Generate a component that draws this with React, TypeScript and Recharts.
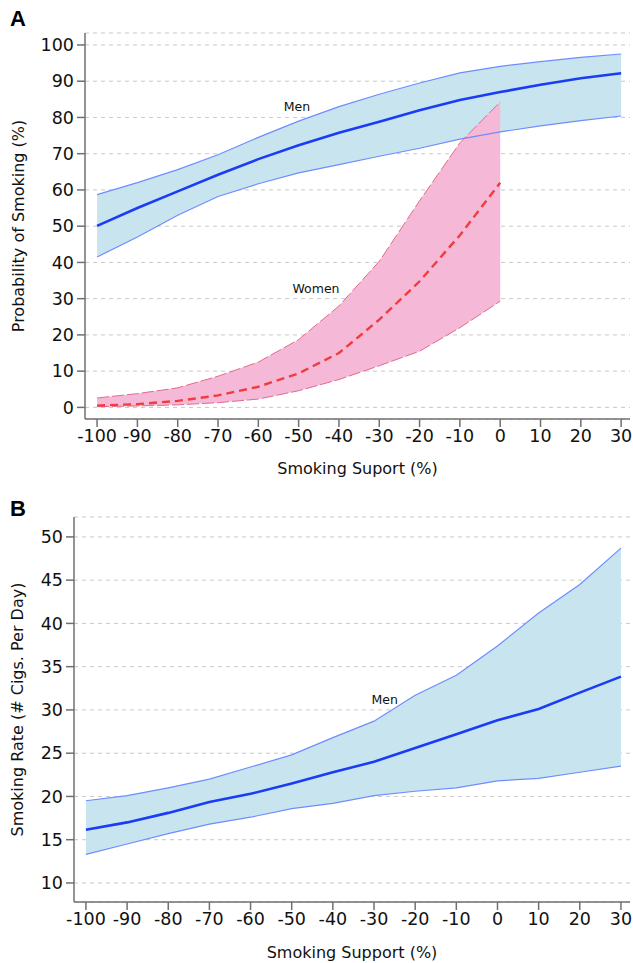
import React from 'react';
import {
  ComposedChart, Area, Line, XAxis, YAxis, CartesianGrid, ReferenceArea, ReferenceDot,
} from 'recharts';

const support = [-100, -90, -80, -70, -60, -50, -40, -30, -20, -10, 0, 10, 20, 30];
const xTicks = support;
const yTicksA = [0, 10, 20, 30, 40, 50, 60, 70, 80, 90, 100];
const yTicksB = [10, 15, 20, 25, 30, 35, 40, 45, 50];

// Panel A – probability of smoking (%)
const menMeanA = [50.1, 55, 59.6, 64.2, 68.5, 72.3, 75.8, 78.8, 82, 84.8, 87, 89, 90.8, 92.2];
const menUpA = [58.7, 62, 65.6, 69.7, 74.5, 79, 83, 86.4, 89.5, 92.3, 94.1, 95.4, 96.6, 97.5];
const menLowA = [41.5, 47, 53, 58.2, 61.7, 64.7, 67, 69.3, 71.5, 74, 76, 77.7, 79.1, 80.4];
const womenMean = [0.5, 0.9, 1.8, 3.3, 5.7, 9.4, 15, 24.2, 34.8, 47.5, 62];
const womenUp = [2.6, 3.8, 5.4, 8.6, 12.5, 18.7, 28, 40.3, 57, 73, 84.3];
const womenLow = [0.2, 0.4, 0.7, 1.3, 2.3, 4.6, 7.7, 11.5, 15.5, 22, 29.3];

// Panel B – smoking rate (# cigs per day)
const menMeanB = [16.15, 17.0, 18.1, 19.35, 20.3, 21.5, 22.8, 24.0, 25.6, 27.2, 28.8, 30.1, 32.0, 33.85];
const menUpB = [19.5, 20.1, 21.0, 22.0, 23.4, 24.8, 26.8, 28.7, 31.7, 34.0, 37.4, 41.2, 44.5, 48.7];
const menLowB = [13.3, 14.5, 15.7, 16.8, 17.6, 18.6, 19.2, 20.1, 20.6, 21.0, 21.8, 22.1, 22.8, 23.5];

const dataA = support.map((x, i) => ({
  x,
  menMean: menMeanA[i],
  menUp: menUpA[i],
  menLow: menLowA[i],
  menBand: [menLowA[i], menUpA[i]],
  womenMean: i < womenMean.length ? womenMean[i] : null,
  womenUp: i < womenUp.length ? womenUp[i] : null,
  womenLow: i < womenLow.length ? womenLow[i] : null,
  womenBand: i < womenUp.length ? [womenLow[i], womenUp[i]] : null,
}));

const dataB = support.map((x, i) => ({
  x,
  menMean: menMeanB[i],
  menUp: menUpB[i],
  menLow: menLowB[i],
  menBand: [menLowB[i], menUpB[i]],
}));

const FONT = 'DejaVu Sans';
const AXIS = '#707070';
const BLUE_FILL = '#c8e5ef';
const BLUE_LINE = '#1a3cf5';
const BLUE_EDGE = '#6f8cff';
const PINK_FILL = '#f5b8d7';
const RED_LINE = '#f03c3c';
const PINK_EDGE = '#e36a8e';

const tickStyle = { fill: '#111', fontSize: 17.5, fontFamily: FONT };

export default function App() {
  return (
    <div style={{ position: 'absolute', left: 0, top: 0, width: 633, height: 963, background: '#fff', fontFamily: FONT }}>
      <div style={{ position: 'absolute', left: 10, top: 6, fontSize: 22, fontWeight: 'bold', fontFamily: 'Liberation Sans' }}>A</div>
      <div style={{ position: 'absolute', left: 10, top: 496, fontSize: 22, fontWeight: 'bold', fontFamily: 'Liberation Sans' }}>B</div>

      <div style={{ position: 'absolute', left: 0, top: 0 }}>
        <ComposedChart width={633} height={480} data={dataA} margin={{ top: 33, right: 3, left: 0, bottom: 0 }}>
          <CartesianGrid vertical={false} stroke="#c8c8c8" strokeDasharray="4 4" />
          <XAxis
            dataKey="x" type="number" domain={[-103, 32.2]} ticks={xTicks} interval={0} allowDataOverflow
            height={61} stroke={AXIS} strokeWidth={1.5} tickSize={8} tickMargin={3} tick={tickStyle}
            label={{ value: 'Smoking Suport (%)', position: 'insideBottom', offset: 6, fill: '#111', fontSize: 16, fontFamily: FONT }}
          />
          <YAxis
            type="number" domain={[-3.2, 103.3]} ticks={yTicksA} interval={0} allowDataOverflow
            width={85} stroke={AXIS} strokeWidth={1.5} tickSize={8} tickMargin={3} tick={tickStyle}
            label={{ value: 'Probability of Smoking (%)', angle: -90, position: 'insideLeft', offset: 18, fill: '#111', fontSize: 16, fontFamily: FONT, style: { textAnchor: 'middle' } }}
          />
          <Area dataKey="menBand" stroke="none" fill={BLUE_FILL} fillOpacity={1} isAnimationActive={false} />
          <Area dataKey="womenBand" stroke="none" fill={PINK_FILL} fillOpacity={1} isAnimationActive={false} />
          <Line dataKey="menUp" stroke={BLUE_EDGE} strokeWidth={1.2} dot={false} isAnimationActive={false} />
          <Line dataKey="menLow" stroke={BLUE_EDGE} strokeWidth={1.2} dot={false} isAnimationActive={false} />
          <Line dataKey="menMean" stroke={BLUE_LINE} strokeWidth={2.6} dot={false} isAnimationActive={false} />
          <Line dataKey="womenUp" stroke={PINK_EDGE} strokeWidth={1} strokeDasharray="12 3" dot={false} isAnimationActive={false} />
          <Line dataKey="womenLow" stroke={PINK_EDGE} strokeWidth={1} strokeDasharray="12 3" dot={false} isAnimationActive={false} />
          <Line dataKey="womenMean" stroke={RED_LINE} strokeWidth={2.4} strokeDasharray="8 5" dot={false} isAnimationActive={false} />
          <ReferenceDot x={-50.4} y={82.9} r={0} fill="none" stroke="none"
            label={{ value: 'Men', position: 'center', fill: '#111', fontSize: 12.5, fontFamily: FONT }} />
          <ReferenceDot x={-45.7} y={32.8} r={0} fill="none" stroke="none"
            label={{ value: 'Women', position: 'center', fill: '#111', fontSize: 12.5, fontFamily: FONT }} />
          <ReferenceArea fill="none" stroke={AXIS} strokeWidth={1.5} />
        </ComposedChart>
      </div>

      <div style={{ position: 'absolute', left: 0, top: 480 }}>
        <ComposedChart width={633} height={483} data={dataB} margin={{ top: 37, right: 3, left: 0, bottom: 0 }}>
          <CartesianGrid vertical={false} stroke="#c8c8c8" strokeDasharray="4 4" />
          <XAxis
            dataKey="x" type="number" domain={[-102.9, 32.2]} ticks={xTicks} interval={0} allowDataOverflow
            height={61} stroke={AXIS} strokeWidth={1.5} tickSize={8} tickMargin={3} tick={tickStyle}
            label={{ value: 'Smoking Support (%)', position: 'insideBottom', offset: 5, fill: '#111', fontSize: 16, fontFamily: FONT }}
          />
          <YAxis
            type="number" domain={[7.8, 52.3]} ticks={yTicksB} interval={0} allowDataOverflow
            width={74} stroke={AXIS} strokeWidth={1.5} tickSize={8} tickMargin={3} tick={tickStyle}
            label={{ value: 'Smoking Rate (# Cigs. Per Day)', angle: -90, position: 'insideLeft', offset: 17, fill: '#111', fontSize: 16, fontFamily: FONT, style: { textAnchor: 'middle' } }}
          />
          <Area dataKey="menBand" stroke="none" fill={BLUE_FILL} fillOpacity={1} isAnimationActive={false} />
          <Line dataKey="menUp" stroke={BLUE_EDGE} strokeWidth={1.2} dot={false} isAnimationActive={false} />
          <Line dataKey="menLow" stroke={BLUE_EDGE} strokeWidth={1.2} dot={false} isAnimationActive={false} />
          <Line dataKey="menMean" stroke={BLUE_LINE} strokeWidth={2.6} dot={false} isAnimationActive={false} />
          <ReferenceDot x={-27.4} y={31.2} r={0} fill="none" stroke="none"
            label={{ value: 'Men', position: 'center', fill: '#111', fontSize: 12.5, fontFamily: FONT }} />
          <ReferenceArea fill="none" stroke={AXIS} strokeWidth={1.5} />
        </ComposedChart>
      </div>
    </div>
  );
}
